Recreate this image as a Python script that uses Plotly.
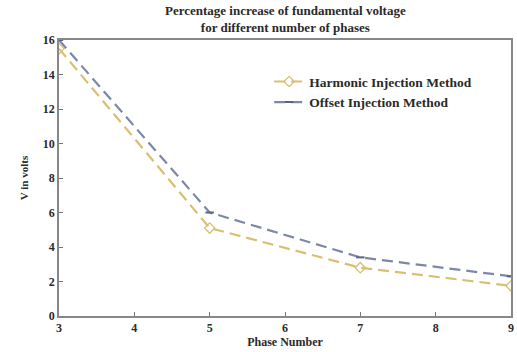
import plotly.graph_objects as go

phases = [3, 5, 7, 9]
harmonic = [15.5, 5.1, 2.8, 1.75]
offset = [16.0, 6.0, 3.4, 2.3]
x_ticks = [3, 4, 5, 6, 7, 8, 9]
y_ticks = [0, 2, 4, 6, 8, 10, 12, 14, 16]

font = "Liberation Serif"
txt = "#2a2a2a"
fig = go.Figure()
fig.add_trace(go.Scatter(
    x=phases, y=harmonic, name="<b>Harmonic Injection Method</b>",
    mode="lines+markers",
    line=dict(color="#d9bf72", width=2.2, dash="11px,6px"),
    marker=dict(symbol="diamond-open", size=8, color="#d9bf72", line=dict(width=1.3)),
))
fig.add_trace(go.Scatter(
    x=phases, y=offset, name="<b>Offset Injection Method</b>",
    mode="lines+markers",
    line=dict(color="#7d88a8", width=2.2, dash="11px,6px"),
    marker=dict(symbol="line-ew", size=6, color="#5a6480", line=dict(width=2, color="#5a6480")),
))
fig.add_annotation(
    text="<b>Percentage increase of fundamental voltage<br>for different number of phases</b>",
    xref="paper", yref="paper", x=0.5, y=1.0, xanchor="center", yanchor="bottom",
    yshift=3, showarrow=False, font=dict(family=font, size=13, color=txt),
)
fig.update_layout(
    width=517, height=352,
    margin=dict(l=59, r=3, t=40, b=36),
    paper_bgcolor="white", plot_bgcolor="white",
    font=dict(family=font, size=12, color=txt),
    legend=dict(x=0.465, y=0.905, xanchor="left", yanchor="top",
                bgcolor="rgba(0,0,0,0)", font=dict(family=font, size=13.5, color=txt),
                tracegroupgap=0),
    showlegend=True,
)
fig.update_xaxes(
    range=[3, 9], tickvals=x_ticks, ticktext=[f"<b>{v}</b>" for v in x_ticks],
    ticks="inside", ticklen=4, tickcolor="#777", showgrid=False, zeroline=False,
    showline=True, linecolor="#888", linewidth=1.5, mirror=True,
    title=dict(text="<b>Phase Number</b>", standoff=0, font=dict(family=font, size=12, color=txt)),
)
fig.update_yaxes(
    range=[0, 16], tickvals=y_ticks, ticktext=[f"<b>{v}</b>" for v in y_ticks],
    ticks="inside", ticklen=4, tickcolor="#777", showgrid=False, zeroline=False,
    showline=True, linecolor="#888", linewidth=1.5, mirror=True,
    title=dict(text="<b>V in volts</b>", standoff=12, font=dict(family=font, size=11, color=txt)),
)
fig.write_html("out.html")
